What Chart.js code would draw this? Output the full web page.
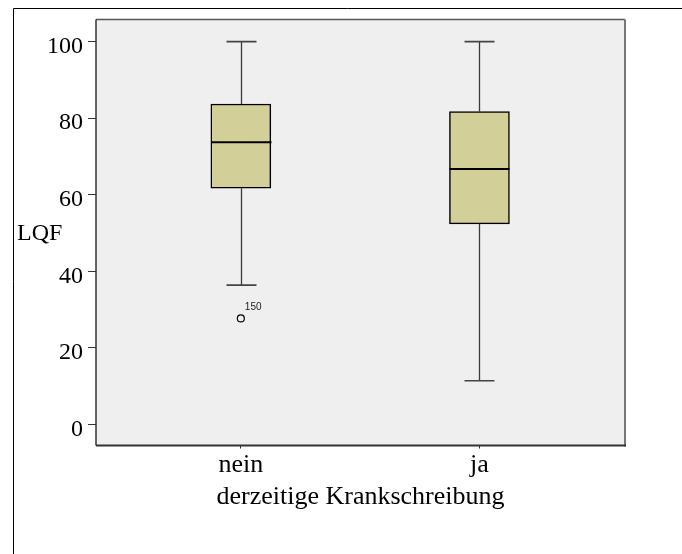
<!DOCTYPE html>
<html>
<head>
<meta charset="utf-8">
<script src="https://cdn.jsdelivr.net/npm/chart.js@4.4.0/dist/chart.umd.min.js"></script>
<style>
  body { margin: 0; background: #fff; }
</style>
</head>
<body>
<canvas id="chBox" width="682" height="554"></canvas>
<script>
/* boxplot LQF by derzeitige Krankschreibung */

// values
var categories = ['nein', 'ja'];
var whiskerLow = [36.4, 11.4];
var quart1 = [61.7, 52.4];
var medians = [73.7, 66.7];
var quart3 = [83.7, 81.7];
var whiskerHigh = [100, 100];
var outlierGroup = [0];
var outlierValue = [27.7];
var outlierCase = ['150'];
var yTicks = [0, 20, 40, 60, 80, 100];

var serif = '"Liberation Serif", "Times New Roman", serif';
var boxFill = '#d3cf99';

var boxData = categories.map(function (c, i) {
  return {x: i + 1, y: [quart1[i], quart3[i]]};
});
var outlierData = outlierValue.map(function (v, i) {
  return {x: outlierGroup[i] + 1, y: v};
});

// background, outer frame and plot border
var framePlugin = {
  id: 'frame',
  beforeDraw: function (chart) {
    var ctx = chart.ctx, a = chart.chartArea;
    ctx.save();
    ctx.fillStyle = '#fff';
    ctx.fillRect(0, 0, chart.width, chart.height);
    ctx.strokeStyle = '#000';
    ctx.lineWidth = 1;
    ctx.beginPath();
    ctx.moveTo(13.5, chart.height);
    ctx.lineTo(13.5, 8.5);
    ctx.lineTo(chart.width, 8.5);
    ctx.stroke();
    ctx.fillStyle = '#efefef';
    ctx.fillRect(a.left, a.top, a.right - a.left, a.bottom - a.top);
    ctx.restore();
  },
  afterDraw: function (chart) {
    var ctx = chart.ctx, a = chart.chartArea;
    ctx.save();
    ctx.lineWidth = 1.5;
    ctx.strokeStyle = '#555';
    ctx.beginPath(); ctx.moveTo(a.left, a.top); ctx.lineTo(a.right, a.top); ctx.stroke();
    ctx.strokeStyle = '#333';
    ctx.beginPath(); ctx.moveTo(a.left, a.top); ctx.lineTo(a.left, a.bottom); ctx.stroke();
    ctx.lineWidth = 2;
    ctx.strokeStyle = '#777';
    ctx.beginPath(); ctx.moveTo(a.right, a.top); ctx.lineTo(a.right, a.bottom + 1); ctx.stroke();
    ctx.strokeStyle = '#333';
    ctx.beginPath(); ctx.moveTo(a.left, a.bottom); ctx.lineTo(a.right + 1, a.bottom); ctx.stroke();
    ctx.restore();
  }
};

// whiskers, caps, medians, outlier labels, y title
var whiskerPlugin = {
  id: 'whiskers',
  afterDatasetsDraw: function (chart) {
    var ctx = chart.ctx, xs = chart.scales.x, ys = chart.scales.y, a = chart.chartArea;
    var boxHalf = 30, capHalf = 15;
    ctx.save();
    categories.forEach(function (c, i) {
      var cx = Math.round(xs.getPixelForValue(i + 1)) + 0.5;
      ctx.strokeStyle = '#3a3a3a';
      ctx.lineWidth = 1.3;
      ctx.beginPath();
      ctx.moveTo(cx, ys.getPixelForValue(quart3[i]));
      ctx.lineTo(cx, ys.getPixelForValue(whiskerHigh[i]));
      ctx.moveTo(cx, ys.getPixelForValue(quart1[i]));
      ctx.lineTo(cx, ys.getPixelForValue(whiskerLow[i]));
      ctx.stroke();
      ctx.strokeStyle = '#444';
      ctx.lineWidth = 1.6;
      ctx.beginPath();
      ctx.moveTo(cx - capHalf, ys.getPixelForValue(whiskerHigh[i]));
      ctx.lineTo(cx + capHalf, ys.getPixelForValue(whiskerHigh[i]));
      ctx.moveTo(cx - capHalf, ys.getPixelForValue(whiskerLow[i]));
      ctx.lineTo(cx + capHalf, ys.getPixelForValue(whiskerLow[i]));
      ctx.stroke();
      ctx.strokeStyle = '#000';
      ctx.lineWidth = 2;
      ctx.beginPath();
      ctx.moveTo(cx - boxHalf, ys.getPixelForValue(medians[i]));
      ctx.lineTo(cx + boxHalf, ys.getPixelForValue(medians[i]));
      ctx.stroke();
    });
    ctx.fillStyle = '#222';
    ctx.font = '10px "Liberation Sans", Arial, sans-serif';
    ctx.textAlign = 'left';
    ctx.textBaseline = 'bottom';
    outlierValue.forEach(function (v, i) {
      var px = xs.getPixelForValue(outlierGroup[i] + 1);
      var py = ys.getPixelForValue(v);
      ctx.fillText(outlierCase[i], px + 4, py - 6);
    });
    ctx.fillStyle = '#000';
    ctx.font = '24px ' + serif;
    ctx.textBaseline = 'middle';
    ctx.fillText('LQF', 17, (a.top + a.bottom) / 2 + 1);
    ctx.restore();
  }
};

var chBox = document.getElementById('chBox');
if (chBox) {
  new Chart(chBox, {
    type: 'bar',
    data: {
      datasets: [
        {
          data: boxData,
          backgroundColor: boxFill,
          borderColor: '#000',
          borderWidth: 1.5,
          borderSkipped: false,
          barThickness: 60
        },
        {
          type: 'scatter',
          data: outlierData,
          pointStyle: 'circle',
          pointRadius: 3.5,
          pointBorderColor: '#000',
          pointBorderWidth: 1.2,
          pointBackgroundColor: 'rgba(0,0,0,0)'
        }
      ]
    },
    options: {
      responsive: false,
      animation: false,
      layout: {padding: {left: 0, top: 16, right: 57, bottom: 41}},
      plugins: {legend: {display: false}, tooltip: {enabled: false}},
      scales: {
        x: {
          type: 'linear',
          offset: false,
          min: 0.393,
          max: 2.61,
          afterBuildTicks: function (s) {
            s.ticks = categories.map(function (c, i) { return {value: i + 1}; });
          },
          afterFit: function (s) { s.height = 67.5; },
          ticks: {
            callback: function (v) { return categories[v - 1]; },
            font: {family: serif, size: 26},
            color: '#000',
            padding: 1,
            maxRotation: 0,
            autoSkip: false
          },
          grid: {offset: false, drawOnChartArea: false, tickLength: 3, color: '#333'},
          border: {display: false},
          title: {
            display: true,
            text: 'derzeitige Krankschreibung',
            font: {family: serif, size: 26},
            color: '#000',
            padding: 0
          }
        },
        y: {
          min: -5.5,
          max: 105.8,
          afterBuildTicks: function (s) {
            s.ticks = yTicks.map(function (v) { return {value: v}; });
          },
          afterFit: function (s) { s.width = 96; },
          ticks: {
            font: {family: serif, size: 24},
            color: '#000',
            padding: 5,
            labelOffset: 5
          },
          grid: {drawOnChartArea: false, tickLength: 8, color: '#333'},
          border: {display: false}
        }
      }
    },
    plugins: [framePlugin, whiskerPlugin]
  });
}
</script>
</body>
</html>
